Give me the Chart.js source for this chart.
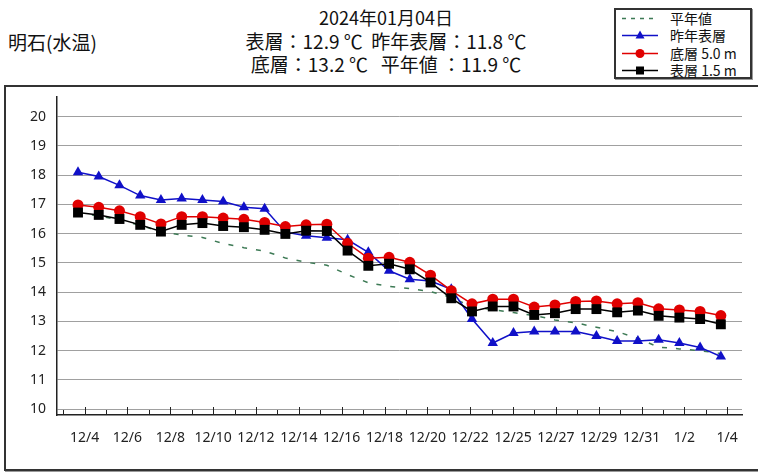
<!DOCTYPE html>
<html lang="ja">
<head>
<meta charset="utf-8">
<title>明石(水温)</title>
<script src="https://cdn.jsdelivr.net/npm/chart.js@4.4.1/dist/chart.umd.min.js"></script>
<style>
    html, body { margin: 0; padding: 0; background: #fff; }
    body {
        width: 758px; height: 472px; position: relative; overflow: hidden;
        font-family: "Noto Sans CJK JP", "Noto Sans", sans-serif; color: #111;
    }
    #station { position: absolute; left: 8px; top: 30px; font-size: 19px; line-height: 24px; }
    .title {
        position: absolute; left: 186px; width: 400px; text-align: center;
        font-size: 18px; line-height: 22px; white-space: pre;
    }
    #t1 { top: 6px; }
    #t2 { top: 30px; font-size: 19px; }
    #t3 { top: 53px; font-size: 19px; }
    #legend {
        position: absolute; left: 614px; top: 8px; width: 134px; height: 67px;
        border: 2px solid #333; box-shadow: 1px 1px 0 #999;
    }
    .item { position: absolute; left: 4px; width: 128px; height: 17px; font-size: 14px; line-height: 17px; }
    .item svg { position: absolute; left: 0; top: 0; }
    .item span { position: absolute; left: 50px; top: 0; white-space: nowrap; }
    #frame {
        position: absolute; left: 4px; top: 85px; width: 780px; height: 382px;
        border: 2px solid #333; box-shadow: 1px 1px 0 #999;
    }
    #chart-box { position: absolute; left: 0; top: 0; width: 758px; height: 472px; }
</style>
</head>
<body>
<div id="station">明石(水温)</div>
<div class="title" id="t1">2024年01月04日</div>
<div class="title" id="t2">表層：12.9 ℃  昨年表層：11.8 ℃</div>
<div class="title" id="t3">底層：13.2 ℃   平年値 ：11.9 ℃</div>
<div id="legend"></div>
<div id="frame"></div>
<div id="chart-box"><canvas id="tempChart"></canvas></div>

<script>
// daily points, 12/4 .. 1/4
const days = ['12/4', '12/5', '12/6', '12/7', '12/8', '12/9', '12/10', '12/11', '12/12', '12/13',
    '12/14', '12/15', '12/16', '12/17', '12/18', '12/19', '12/20', '12/21', '12/22', '12/23',
    '12/24', '12/25', '12/26', '12/27', '12/28', '12/29', '12/30', '12/31', '1/1', '1/2', '1/3', '1/4'];

// labels printed under the axis
const tickLabels = ['12/4', '12/6', '12/8', '12/10', '12/12', '12/14', '12/16', '12/18', '12/20',
    '12/22', '12/25', '12/27', '12/29', '12/31', '1/2', '1/4'];

const yTicks = [10, 11, 12, 13, 14, 15, 16, 17, 18, 19, 20];

const seriesNames = ['平年値', '昨年表層', '底層 5.0 m', '表層 1.5 m'];

const normal = [16.7, 16.6, 16.47, 16.28, 16.07, 15.95, 15.87, 15.66, 15.52, 15.4,
    15.17, 15.02, 14.92, 14.6, 14.32, 14.2, 14.12, 14.02, 13.82, 13.5,
    13.4, 13.3, 13.2, 13.05, 12.95, 12.8, 12.65, 12.42, 12.12, 12.06, 12.0, 11.9];

const lastYear = [18.1, 17.95, 17.65, 17.3, 17.15, 17.2, 17.15, 17.1, 16.9, 16.85,
    16.05, 15.93, 15.86, 15.79, 15.36, 14.73, 14.44, 14.38, 14.1, 13.08,
    12.26, 12.6, 12.65, 12.65, 12.65, 12.5, 12.33, 12.33, 12.37, 12.26, 12.11, 11.8];

const bottom5m = [16.98, 16.9, 16.78, 16.58, 16.33, 16.58, 16.58, 16.53, 16.49, 16.38,
    16.24, 16.3, 16.32, 15.67, 15.16, 15.19, 15.02, 14.58, 14.05, 13.6,
    13.76, 13.76, 13.49, 13.56, 13.68, 13.7, 13.6, 13.64, 13.43, 13.39, 13.34, 13.2];

const surface15m = [16.72, 16.64, 16.5, 16.3, 16.07, 16.3, 16.36, 16.26, 16.22, 16.13,
    15.99, 16.1, 16.09, 15.42, 14.9, 14.97, 14.78, 14.33, 13.79, 13.34,
    13.51, 13.51, 13.22, 13.28, 13.42, 13.42, 13.31, 13.37, 13.19, 13.13, 13.08, 12.9];

const toPoints = arr => arr.map((v, i) => ({ x: i, y: v }));

const colors = {
    normal: '#3d7a55',
    lastYear: '#1010c8',
    bottom: '#e00000',
    surface: '#000000'
};

// small upward tick marks on the date axis
const tickMarks = {
    id: 'tickMarks',
    afterDraw(chart) {
        const xl = chart.scales.xl;
        const ctx = chart.ctx;
        const base = chart.chartArea.bottom;
        ctx.save();
        ctx.strokeStyle = '#222';
        ctx.lineWidth = 1;
        for (let k = 0; k < days.length; k++) {
            const x = Math.round(xl.getPixelForValue(k)) + 0.5;
            const len = k % 2 ? 8 : 5;
            ctx.beginPath();
            ctx.moveTo(x, base);
            ctx.lineTo(x, base - len);
            ctx.stroke();
        }
        ctx.restore();
    }
};

const ctx = document.getElementById('tempChart').getContext('2d');
const tempChart = new Chart(ctx, {
    type: 'line',
    data: {
        datasets: [
            {
                label: seriesNames[0],
                data: toPoints(normal),
                borderColor: colors.normal,
                borderWidth: 1.5,
                borderDash: [5, 9],
                pointRadius: 0,
                order: 4
            },
            {
                label: seriesNames[1],
                data: toPoints(lastYear),
                borderColor: colors.lastYear,
                backgroundColor: colors.lastYear,
                borderWidth: 1.5,
                pointStyle: 'triangle',
                pointRadius: 6,
                pointBorderWidth: 0,
                order: 3
            },
            {
                label: seriesNames[2],
                data: toPoints(bottom5m),
                borderColor: colors.bottom,
                backgroundColor: colors.bottom,
                borderWidth: 1.5,
                pointStyle: 'circle',
                pointRadius: 5.5,
                pointBorderWidth: 0,
                order: 2
            },
            {
                label: seriesNames[3],
                data: toPoints(surface15m),
                borderColor: colors.surface,
                backgroundColor: colors.surface,
                borderWidth: 1.5,
                pointStyle: 'rect',
                pointRadius: 7,
                pointBorderWidth: 0,
                order: 1
            }
        ]
    },
    options: {
        responsive: true,
        maintainAspectRatio: false,
        animation: false,
        layout: { padding: { top: 97, right: 16, bottom: 17, left: 0 } },
        plugins: {
            legend: { display: false },
            tooltip: {
                callbacks: {
                    title: items => days[items[0].parsed.x]
                }
            }
        },
        scales: {
            x: {
                type: 'linear',
                display: false,
                min: -1.013,
                max: 32.02
            },
            xl: {
                type: 'linear',
                position: 'bottom',
                min: -0.29,
                max: 31.69,
                grid: { display: false, drawTicks: false },
                border: { display: true, color: '#222', width: 1.5 },
                afterBuildTicks: axis => {
                    axis.ticks = tickLabels.map((_, j) => ({ value: 2 * j + 1 }));
                },
                afterFit: axis => { axis.height = 40; },
                ticks: {
                    autoSkip: false,
                    maxRotation: 0,
                    padding: 15,
                    color: '#222',
                    font: { family: 'Noto Sans', size: 14 },
                    callback: (v, i) => tickLabels[i]
                }
            },
            y: {
                type: 'linear',
                min: 9.8,
                max: 20.67,
                afterBuildTicks: axis => {
                    axis.ticks = yTicks.map(v => ({ value: v }));
                },
                afterFit: axis => { axis.width = 57; },
                grid: { color: '#a0a0a0', lineWidth: 1, drawTicks: false },
                border: { color: '#222', width: 1.5 },
                ticks: {
                    padding: 11,
                    color: '#222',
                    font: { family: 'Noto Sans', size: 14 }
                }
            }
        }
    },
    plugins: [tickMarks]
});

// --- HTML legend built from the datasets ---
function legendSymbol(ds) {
    const c = ds.borderColor;
    let line = `<line x1="2" y1="8.5" x2="38" y2="8.5" stroke="${c}" stroke-width="1.5"${ds.borderDash ? ' stroke-dasharray="4 5"' : ''}/>`;
    let mark = '';
    if (ds.pointStyle === 'triangle') {
        mark = `<polygon points="20,3.5 24.5,11.5 15.5,11.5" fill="${c}"/>`;
    } else if (ds.pointStyle === 'circle') {
        mark = `<circle cx="20" cy="8.5" r="4.5" fill="${c}"/>`;
    } else if (ds.pointStyle === 'rect') {
        mark = `<rect x="16" y="4.5" width="8" height="8" fill="${c}"/>`;
    }
    return `<svg width="40" height="17">${line}${mark}</svg>`;
}

const legendEl = document.getElementById('legend');
tempChart.data.datasets.forEach((ds, i) => {
    const item = document.createElement('div');
    item.className = 'item';
    item.style.top = (i * 17.3) + 'px';
    item.innerHTML = legendSymbol(ds) + `<span>${ds.label}</span>`;
    legendEl.appendChild(item);
});
</script>
</body>
</html>
